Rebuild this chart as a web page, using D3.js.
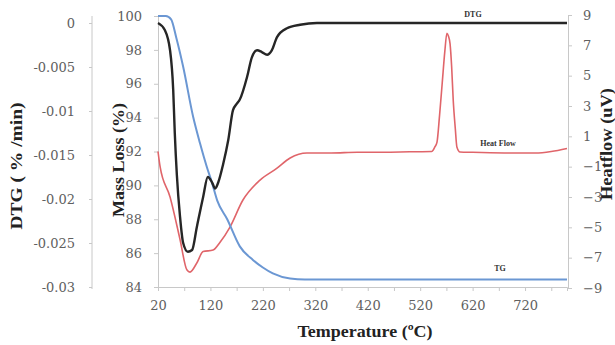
<!DOCTYPE html>
<html><head><meta charset="utf-8">
<script src="https://cdn.jsdelivr.net/npm/d3@7"></script>
<style>
html,body{margin:0;padding:0;background:#fff;}
svg{display:block;}
</style></head>
<body><svg id="c" width="615" height="345"></svg>
<script>
// ---- data ----
const xTicks = [20,120,220,320,420,520,620,720];
const massTicks = [84,86,88,90,92,94,96,98,100];
const dtgTicks = [0,-0.005,-0.01,-0.015,-0.02,-0.025,-0.03];
const hfTicks = [9,7,5,3,1,-1,-3,-5,-7,-9];

const tgTemp = [20,35,45,55,68,87,100,113,123,133,152,176,201,220,239,272,300,400,500,600,700,800];
const tgMass = [100,100,99.8,98.7,97.0,94.05,92.5,91.1,90.15,89.1,88.0,86.4,85.6,85.15,84.8,84.5,84.45,84.45,84.45,84.45,84.45,84.45];

const dtgTemp = [20,33,43,49,52,56,62,68,77,85,94,106,115,123,129,135,144,154,163,170,176,190,199,209,218,228,237,247,266,291,323,400,500,600,700,800];
const dtgVal = [0,-0.0008,-0.0031,-0.0076,-0.0125,-0.0173,-0.022,-0.025,-0.026,-0.0258,-0.0232,-0.0198,-0.0175,-0.0181,-0.0188,-0.0181,-0.0161,-0.0133,-0.0099,-0.0092,-0.0087,-0.0061,-0.0039,-0.0031,-0.0033,-0.0036,-0.0031,-0.0016,-0.0006,-0.0002,0,0,0,0,0,0];

const hfTemp = [20,24,43,62,75,81,94,106,125,138,157,182,214,247,272,304,350,400,450,500,542,548,552,557,562,567,571,574,577,580,583,587,590,596,620,700,740,770,800];
const hfVal = [0,-1.0,-3.0,-5.8,-7.8,-7.95,-7.35,-6.6,-6.5,-6.0,-5.0,-3.2,-1.9,-1.1,-0.43,-0.1,-0.1,-0.05,-0.05,-0.02,0,0.3,0.6,2.4,4.5,6.6,7.8,7.6,7.1,5.6,3.4,1.5,0.3,-0.03,-0.05,-0.1,-0.1,0.0,0.2];

// ---- layout ----
const L = 158, R = 567, T = 16, B = 287;
const SERIF = '"Liberation Serif", "Times New Roman", serif';
const TICKF = '"DejaVu Serif", serif';
const svg = d3.select("#c");
const x = d3.scaleLinear().domain([20,800]).range([L,R]);
const yM = d3.scaleLinear().domain([84,100]).range([B,T]);
const yD = d3.scaleLinear().domain([-0.03,0]).range([B,23]);
const yH = d3.scaleLinear().domain([-9,9]).range([B+1,15]);

const axisCol = "#c8c8c8", tickTxt = "#606060";

function styleAxis(g){
  g.attr("font-family",TICKF).attr("font-size",13);
  g.selectAll("path.domain").attr("stroke",axisCol).attr("stroke-width",1);
  g.selectAll(".tick line").attr("stroke",axisCol);
  g.selectAll(".tick text").attr("fill",tickTxt);
}

// x axis
const gx = svg.append("g").attr("transform",`translate(0,${B})`)
  .call(d3.axisBottom(x).tickValues(d3.range(20,801,50)).tickSize(4).tickFormat(d=>xTicks.includes(d)?d:""));
styleAxis(gx);
gx.selectAll(".tick text").attr("dy","1.2em");

// mass axis
const gm = svg.append("g").attr("transform",`translate(${L},0)`)
  .call(d3.axisLeft(yM).tickValues(massTicks).tickSize(4).tickPadding(12));
styleAxis(gm);

// DTG axis
const gd = svg.append("g").attr("transform",`translate(92,0)`)
  .call(d3.axisLeft(yD).tickValues(dtgTicks).tickSize(3).tickPadding(14).tickFormat(d=>d===0?"0":String(d)));
styleAxis(gd);
gd.select("path.domain").attr("d",`M0,${T}V${B+2}`);

// heat flow axis
const gh = svg.append("g").attr("transform",`translate(${R+1},0)`)
  .call(d3.axisRight(yH).tickValues(hfTicks).tickSize(4).tickPadding(11));
styleAxis(gh);

// lines
const line = (xs, ys, ys2) => d3.line().curve(d3.curveMonotoneX)
  .x((d,i)=>x(xs[i])).y((d,i)=>ys2(ys[i]));

svg.append("path").datum(hfVal).attr("fill","none").attr("stroke","#e0656a").attr("stroke-width",1.6)
  .attr("d", line(hfTemp,hfVal,yH));
svg.append("path").datum(tgMass).attr("fill","none").attr("stroke","#6b97d3").attr("stroke-width",2)
  .attr("d", line(tgTemp,tgMass,yM));
svg.append("path").datum(dtgVal).attr("fill","none").attr("stroke","#262626").attr("stroke-width",2.4)
  .attr("d", line(dtgTemp,dtgVal,yD));

// series labels
const lab = (t,xx,yy)=>svg.append("text").text(t).attr("x",xx).attr("y",yy)
  .attr("text-anchor","middle").attr("font-family",SERIF).attr("font-size",8).attr("font-weight","bold").attr("fill","#333");
lab("DTG",473,17);
lab("Heat Flow",498,146);
lab("TG",500,271);

// titles
function title(t, tr, len){
  return svg.append("text").text(t).attr("transform",tr)
    .attr("text-anchor","middle").attr("font-family",SERIF).attr("font-size",17).attr("font-weight","bold").attr("fill","#222")
    .attr("textLength",len).attr("lengthAdjust","spacingAndGlyphs");
}
title("Temperature (ºC)","translate(365,337)",135);
title("DTG ( % /min)","translate(22,166) rotate(-90)",127);
title("Mass Loss (%)","translate(124,160) rotate(-90)",114);
title("Heatflow (uV)","translate(612,144) rotate(-90)",112);
</script></body></html>
